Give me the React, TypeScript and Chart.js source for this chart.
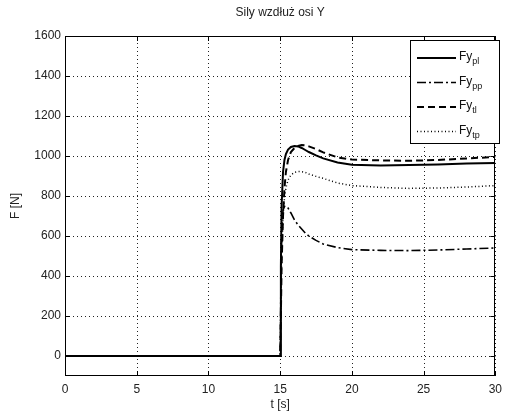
import React, { useEffect, useRef } from "react";
import { Chart, registerables } from "chart.js";

Chart.register(...registerables);

const TITLE = "Sily wzdłuż osi Y";
const X_TITLE = "t [s]";
const Y_TITLE = "F [N]";

const times = [0, 15, 15.05, 15.1, 15.2, 15.3, 15.4, 15.55, 15.75, 16, 16.25, 16.5, 16.75, 17, 17.5, 18, 19, 20, 22, 24, 26, 28, 30];
const fyPl = [0, 0, 450, 750, 920, 980, 1010, 1032, 1045, 1050, 1048, 1040, 1030, 1020, 1003, 988, 968, 956, 952, 955, 958, 962, 965];
const fyPp = [0, 0, 350, 600, 730, 748, 750, 740, 715, 680, 655, 635, 615, 600, 578, 560, 542, 532, 528, 527, 530, 535, 540];
const fyTl = [0, 0, 200, 450, 700, 840, 920, 980, 1020, 1040, 1050, 1055, 1053, 1048, 1035, 1018, 993, 982, 978, 976, 980, 988, 995];
const fyTp = [0, 0, 250, 500, 700, 790, 840, 880, 905, 918, 922, 922, 918, 910, 898, 888, 865, 852, 843, 838, 840, 845, 852];

const xTicks = [0, 5, 10, 15, 20, 25, 30];
const yTicks = [0, 200, 400, 600, 800, 1000, 1200, 1400, 1600];

const seriesNames = ["pl", "pp", "tl", "tp"];
const seriesValues = [fyPl, fyPp, fyTl, fyTp];
const seriesDash = [[], [9, 3, 2, 3], [7, 4], [1, 2.5]];
const seriesWidth = [2, 1.6, 2, 1.5];

const FONT = "'Liberation Sans', Arial, sans-serif";

export default function App() {
  const ref = useRef<HTMLCanvasElement | null>(null);
  useEffect(() => {
    if (!ref.current) return;
    const gridPlugin = {
      id: "dotgrid",
      beforeDatasetsDraw(chart: any) {
        const ctx = chart.ctx;
        const a = chart.chartArea;
        const xs = chart.scales.x;
        const ys = chart.scales.y;
        ctx.save();
        ctx.strokeStyle = "#222";
        ctx.lineWidth = 1;
        ctx.setLineDash([1, 3]);
        ctx.beginPath();
        xTicks.forEach((v) => {
          const px = Math.round(xs.getPixelForValue(v)) + 0.5;
          ctx.moveTo(px, a.bottom);
          ctx.lineTo(px, a.top);
        });
        yTicks.forEach((v) => {
          const py = Math.round(ys.getPixelForValue(v)) + 0.5;
          ctx.moveTo(a.left, py);
          ctx.lineTo(a.right, py);
        });
        ctx.stroke();
        ctx.restore();
      },
    };
    const framePlugin = {
      id: "frame",
      afterDatasetsDraw(chart: any) {
        const ctx = chart.ctx;
        const a = chart.chartArea;
        const xs = chart.scales.x;
        const ys = chart.scales.y;
        ctx.save();
        ctx.strokeStyle = "#000";
        ctx.lineWidth = 1;
        ctx.setLineDash([]);
        ctx.strokeRect(Math.round(a.left) + 0.5, Math.round(a.top) + 0.5, Math.round(a.right - a.left) - 1, Math.round(a.bottom - a.top) - 1);
        ctx.beginPath();
        xTicks.forEach((v) => {
          const px = Math.round(xs.getPixelForValue(v)) + 0.5;
          ctx.moveTo(px, a.bottom);
          ctx.lineTo(px, a.bottom - 5);
          ctx.moveTo(px, a.top);
          ctx.lineTo(px, a.top + 5);
        });
        yTicks.forEach((v) => {
          const py = Math.round(ys.getPixelForValue(v)) + 0.5;
          ctx.moveTo(a.left, py);
          ctx.lineTo(a.left + 5, py);
          ctx.moveTo(a.right, py);
          ctx.lineTo(a.right - 5, py);
        });
        ctx.stroke();

        // legend
        const lx = 410.5, ly = 40.5, lw = 89, lh = 103;
        ctx.fillStyle = "#fff";
        ctx.fillRect(lx, ly, lw, lh);
        ctx.strokeRect(lx, ly, lw, lh);
        const rows = [58, 82.5, 107, 131.5];
        seriesNames.forEach((n, i) => {
          const y = rows[i];
          ctx.beginPath();
          ctx.setLineDash(seriesDash[i]);
          ctx.lineWidth = seriesWidth[i];
          ctx.moveTo(417, y);
          ctx.lineTo(456, y);
          ctx.stroke();
          ctx.setLineDash([]);
          ctx.fillStyle = "#111";
          ctx.textBaseline = "middle";
          ctx.textAlign = "left";
          ctx.font = `12px ${FONT}`;
          ctx.fillText("Fy", 459, y - 1);
          const w = ctx.measureText("Fy").width;
          ctx.font = `9px ${FONT}`;
          ctx.fillText(n, 459 + w, y + 4);
        });

        // titles
        ctx.fillStyle = "#222";
        ctx.font = `12px ${FONT}`;
        ctx.textAlign = "center";
        ctx.textBaseline = "middle";
        ctx.fillText(TITLE, (a.left + a.right) / 2, 13);
        ctx.fillText(X_TITLE, (a.left + a.right) / 2, 405);
        ctx.save();
        ctx.translate(16, (a.top + a.bottom) / 2);
        ctx.rotate(-Math.PI / 2);
        ctx.fillText(Y_TITLE, 0, 0);
        ctx.restore();
        ctx.restore();
      },
    };

    const chart = new Chart(ref.current, {
      type: "line",
      data: {
        datasets: seriesNames.map((n, i) => ({
          label: "Fy_" + n,
          data: times.map((t, j) => ({ x: t, y: seriesValues[i][j] })),
          borderColor: "#000",
          borderWidth: seriesWidth[i],
          borderDash: seriesDash[i],
          pointRadius: 0,
          fill: false,
          tension: 0,
        })),
      },
      options: {
        animation: false,
        responsive: false,
        maintainAspectRatio: false,
        layout: { padding: { top: 36, right: 6, left: 0, bottom: 0 } },
        plugins: { legend: { display: false }, title: { display: false }, tooltip: { enabled: false } },
        scales: {
          x: {
            type: "linear",
            min: 0,
            max: 30,
            afterBuildTicks: (axis: any) => {
              axis.ticks = xTicks.map((v) => ({ value: v }));
            },
            afterFit: (axis: any) => {
              axis.height = 36;
            },
            ticks: { color: "#222", font: { family: FONT, size: 12 }, padding: 6, maxRotation: 0, autoSkip: false, callback: (v: any) => String(v) },
            grid: { display: false, drawTicks: false, tickLength: 0 },
            border: { display: false },
          },
          y: {
            type: "linear",
            min: -100,
            max: 1600,
            afterBuildTicks: (axis: any) => {
              axis.ticks = yTicks.map((v) => ({ value: v }));
            },
            afterFit: (axis: any) => {
              axis.width = 65;
            },
            ticks: { color: "#222", font: { family: FONT, size: 12 }, padding: 4, autoSkip: false, callback: (v: any) => String(v) },
            grid: { display: false, drawTicks: false, tickLength: 0 },
            border: { display: false },
          },
        },
      },
      plugins: [gridPlugin, framePlugin],
    } as any);
    return () => chart.destroy();
  }, []);
  return (
    <div style={{ position: "fixed", left: 0, top: 0, width: 508, height: 412, background: "#fff" }}>
      <canvas ref={ref} width={508} height={412} style={{ display: "block" }} />
    </div>
  );
}
